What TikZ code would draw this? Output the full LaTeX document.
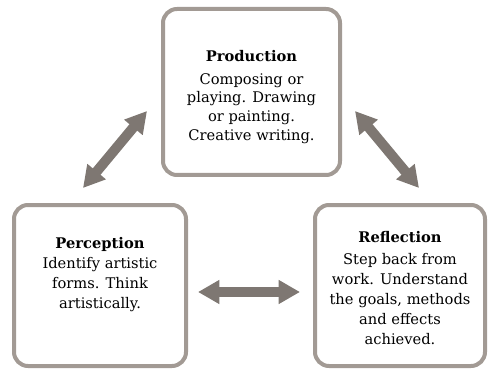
\documentclass[tikz,border=0pt]{standalone}
\usepackage{fontspec}
\setmainfont{DejaVu Serif}
\usetikzlibrary{positioning}
\usetikzlibrary{calc}
\usetikzlibrary{arrows.meta}

\definecolor{boxgray}{RGB}{162,154,148}
\definecolor{arrowgray}{RGB}{126,119,114}

\tikzset{
  stagebox/.style={draw=boxgray, line width=3pt, rounded corners=10.5pt, fill=white},
  stagetext/.style={align=center, anchor=north, inner sep=0pt, font=\fontsize{11}{15}\selectfont},
  twoway/.style={draw=arrowgray, line width=7.5pt,
    {Triangle[length=16pt,width=17pt]}-{Triangle[length=16pt,width=17pt]}}
}

\begin{document}
\begin{tikzpicture}[x=0.75pt, y=-0.75pt]

\useasboundingbox (0,0) rectangle (488,370);

\pgfmathsetmacro{\TOPY}{43}
\pgfmathsetmacro{\LFTY}{34}
\pgfmathsetmacro{\RGTY}{28}

\node [stagebox, minimum width=132.75pt, minimum height=124.5pt] (prod) at (251.5, 92) {};
\node [stagetext, font=\fontsize{11}{14}\selectfont] (prodtext) at ($(prod.north) + (0, \TOPY)$)
{\textbf{Production}\\[3pt]Composing or\\playing. Drawing\\or painting.\\Creative writing.};

\node [stagebox, minimum width=129pt, minimum height=120.75pt] (perc) at (100, 285.5) {};
\node [stagetext] (perctext) at ($(perc.north) + (0, \LFTY)$)
{\textbf{Perception}\\Identify artistic\\forms. Think\\artistically.};

\node [stagebox, minimum width=127.5pt, minimum height=120.75pt] (refl) at (400, 285.5) {};
\node [stagetext] (refltext) at ($(refl.north) + (0, \RGTY)$)
{\textbf{Reflection}\\[1.5pt]Step back from\\work. Understand\\the goals, methods\\and effects\\achieved.};

\coordinate (pp) at (147, 111);
\coordinate (pc) at (83, 188);
\coordinate (rp) at (355, 111);
\coordinate (rr) at (419, 188);
\coordinate (cl) at (198, 292);
\coordinate (cr) at (300, 292);

\draw [twoway] (pp) -- (pc);
\draw [twoway] (rp) -- (rr);
\draw [twoway] (cl) -- (cr);

\end{tikzpicture}
\end{document}
